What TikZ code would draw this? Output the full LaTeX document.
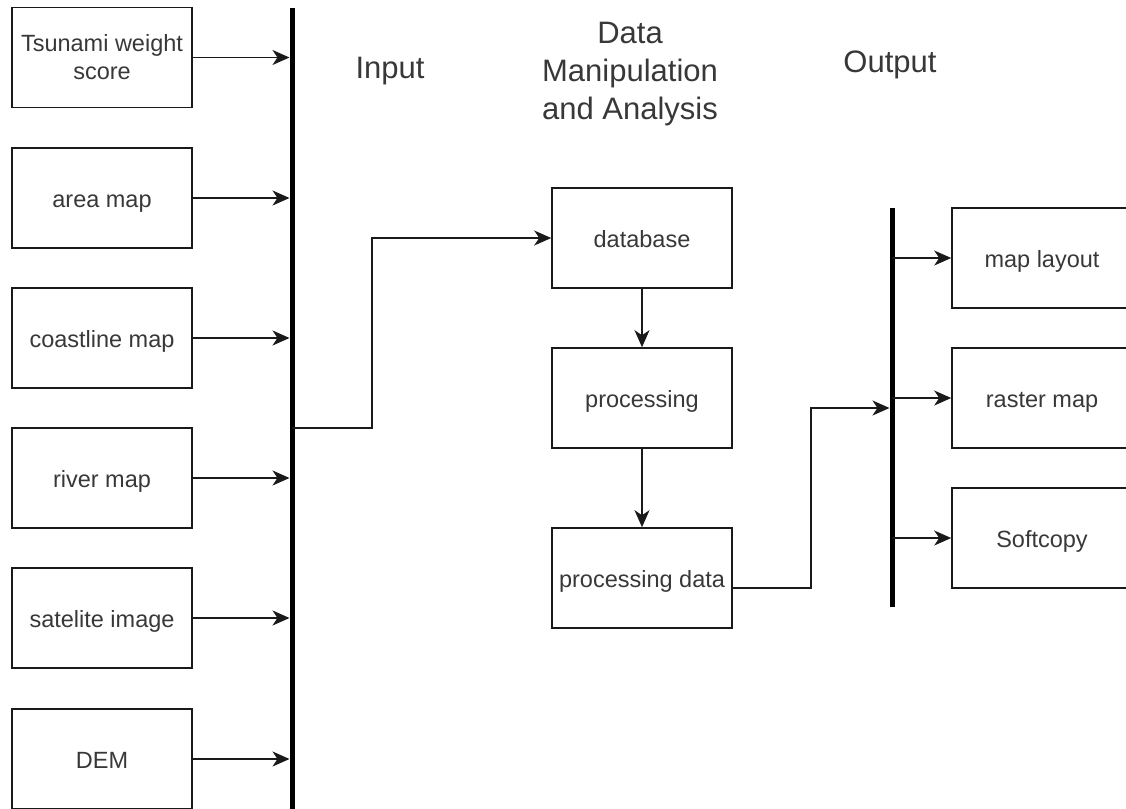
\documentclass[tikz,border=0pt]{standalone}
\usepackage{fontspec}
\setmainfont{Liberation Sans}
\usetikzlibrary{arrows.meta}
\definecolor{txt}{HTML}{383838}
\definecolor{ln}{HTML}{1A1A1A}
\begin{document}
\begin{tikzpicture}[x=1pt,y=-1pt,
  box/.style={draw=ln, line width=1.6pt, minimum width=180pt, minimum height=100pt,
    inner sep=0pt, text=txt, font=\fontsize{23.5}{28}\selectfont, align=center,
    text height=20pt, text depth=2pt},
  hdr/.style={text=txt, inner sep=0pt, font=\fontsize{31}{38}\selectfont, align=center},
  arr/.style={draw=ln, line width=1.6pt, -{Stealth[length=17pt,width=15pt,inset=5pt]}},
  bar/.style={draw=black, line width=5pt},
]
\path[use as bounding box] (0,0) rectangle (1126,808);
\clip (0,0) rectangle (1126,808);

% input boxes
\node[box, text height={}, text depth={}] (tws) at (102,57.5) {Tsunami weight\\score};
\node[box] (area) at (102,198) {area map};
\node[box] (coast) at (102,338) {coastline map};
\node[box] (river) at (102,478) {river map};
\node[box] (sat) at (102,618) {satelite image};
\node[box] (dem) at (102,759) {DEM};

% input bar
\coordinate (inTop) at (292,8);
\coordinate (inBot) at (292,810);
\draw[bar] (inTop) -- (inBot);
\foreach \n in {tws,area,coast,river,sat,dem}
  \draw[arr, shorten >=2.5pt] (\n.east) -- (\n.east -| inTop);

% headers
\node[hdr, anchor=base] (inp) at (390,78) {Input};
\node[hdr] (dma) at (630,74) {Data\\Manipulation\\and Analysis};
\node[hdr, anchor=base] (outp) at (890,73) {Output};

% processing column
\node[box] (db) at (642,238) {database};
\node[box] (proc) at (642,398) {processing};
\node[box] (pdata) at (642,578) {processing data};

\coordinate (inOut) at (292,428);
\coordinate (j1) at (372,428);
\draw[arr] (inOut) -- (j1) |- (db.west);
\draw[arr] (db.south) -- (proc.north);
\draw[arr] (proc.south) -- (pdata.north);

% output bar
\coordinate (oTop) at (892,208);
\coordinate (oBot) at (892,607);
\draw[bar] (oTop) -- (oBot);
\coordinate (oIn) at (892,408);
\coordinate (j2) at (811,588);
\draw[arr, shorten >=2.5pt] ([yshift=-10pt]pdata.east) -- (j2) |- (oIn);

% output boxes
\node[box] (ml) at (1042,258) {map layout};
\node[box] (rm) at (1042,398) {raster map};
\node[box] (sc) at (1042,538) {Softcopy};
\foreach \n in {ml,rm,sc}
  \draw[arr] (\n.west -| oTop) -- (\n.west);
\end{tikzpicture}
\end{document}
